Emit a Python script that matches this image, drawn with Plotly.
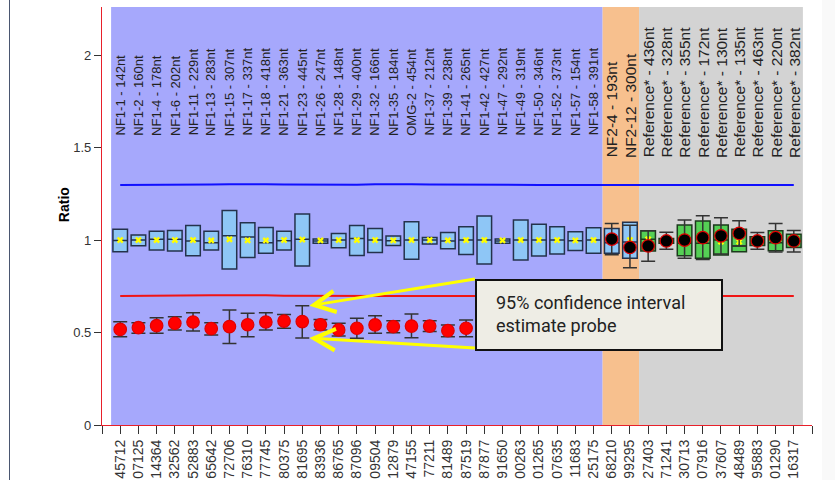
import plotly.graph_objects as go

# ---- probes (top labels) and their target ids (x tick labels) ----
probe_names = [
    "NF1-1 - 142nt", "NF1-2 - 160nt", "NF1-4 - 178nt", "NF1-6 - 202nt", "NF1-11 - 229nt",
    "NF1-13 - 283nt", "NF1-15 - 307nt", "NF1-17 - 337nt", "NF1-18 - 418nt", "NF1-21 - 363nt",
    "NF1-23 - 445nt", "NF1-26 - 247nt", "NF1-28 - 148nt", "NF1-29 - 400nt", "NF1-32 - 166nt",
    "NF1-35 - 184nt", "OMG-2 - 454nt", "NF1-37 - 212nt", "NF1-39 - 238nt", "NF1-41 - 265nt",
    "NF1-42 - 427nt", "NF1-47 - 292nt", "NF1-49 - 319nt", "NF1-50 - 346nt", "NF1-52 - 373nt",
    "NF1-57 - 154nt", "NF1-58 - 391nt",
    "NF2-4 - 193nt", "NF2-12 - 300nt",
    "Reference* - 436nt", "Reference* - 328nt", "Reference* - 355nt", "Reference* - 172nt",
    "Reference* - 130nt", "Reference* - 135nt", "Reference* - 463nt", "Reference* - 220nt",
    "Reference* - 382nt",
]
probe_group = ["NF1"] * 27 + ["NF2"] * 2 + ["Reference"] * 9
tick_ids = [
    "45712", "07125", "14364", "32562", "52883", "65642", "72706", "76310", "77745", "80375",
    "81695", "83936", "86765", "87096", "09504", "12879", "47155", "77211", "81489", "87519",
    "87877", "91650", "00263", "01265", "07635", "11683", "25175",
    "68210", "99295",
    "27403", "71241", "30713", "07916", "37607", "48489", "95883", "01290", "16317",
]

# ---- reference distribution per probe (box) ----
box_q1 = [0.937, 0.969, 0.946, 0.941, 0.915, 0.946, 0.843, 0.906, 0.928, 0.946,
          0.859, 0.982, 0.959, 0.917, 0.933, 0.971, 0.896, 0.978, 0.953, 0.922,
          0.870, 0.982, 0.892, 0.914, 0.924, 0.944, 0.928,
          0.928, 0.901,
          0.941, 0.982, 0.915, 0.901, 0.919, 0.937, 0.971, 0.942, 0.960]
box_median = [0.998, 1.000, 1.004, 1.004, 0.995, 0.986, 1.023, 1.016, 0.986, 0.996,
              1.004, 0.995, 1.000, 1.009, 1.000, 0.996, 1.000, 1.000, 0.995, 1.000,
              1.000, 0.995, 1.000, 1.000, 1.000, 0.996, 1.000,
              0.986, 0.990,
              1.004, 0.995, 0.982, 0.982, 1.000, 0.968, 0.995, 0.986, 0.995]
box_q3 = [1.058, 1.027, 1.047, 1.052, 1.079, 1.047, 1.160, 1.094, 1.068, 1.047,
          1.141, 1.005, 1.036, 1.079, 1.063, 1.022, 1.099, 1.014, 1.041, 1.072,
          1.130, 1.005, 1.108, 1.085, 1.072, 1.045, 1.067,
          1.063, 1.096,
          1.050, 1.009, 1.081, 1.103, 1.081, 1.058, 1.018, 1.050, 1.032]
box_mean = [1.000, 1.000, 1.000, 1.000, 1.000, 0.998, 1.004, 0.998, 0.998, 1.000,
            1.002, 0.998, 1.000, 1.000, 1.000, 0.998, 1.000, 1.000, 0.998, 1.000,
            1.000, 0.998, 1.000, 1.000, 1.000, 0.998, 1.000,
            1.000, 1.000,
            1.004, 1.000, 1.000, 1.000, 0.991, 0.991, 1.000, 1.000, 1.000]

# ---- sample ratio with 95% confidence interval ----
sample_ratio = [0.517, 0.526, 0.537, 0.550, 0.557, 0.521, 0.532, 0.542, 0.557, 0.562,
                0.559, 0.542, 0.514, 0.523, 0.541, 0.532, 0.535, 0.535, 0.510, 0.523,
                None, None, None, None, None, None, None,
                1.005, 0.960,
                0.968, 0.995, 1.000, 1.013, 1.023, 1.036, 0.995, 1.013, 0.995]
sample_ci_low = [0.477, 0.496, 0.496, 0.514, 0.508, 0.486, 0.440, 0.477, 0.514, 0.523,
                 0.470, 0.514, 0.481, 0.469, 0.496, 0.499, 0.472, 0.505, 0.477, 0.477,
                 None, None, None, None, None, None, None,
                 0.920, 0.850,
                 0.886, 0.950, 0.901, 0.895, 0.925, 0.968, 0.950, 0.936, 0.935]
sample_ci_high = [0.558, 0.553, 0.580, 0.585, 0.607, 0.553, 0.622, 0.604, 0.607, 0.598,
                  0.645, 0.571, 0.550, 0.577, 0.591, 0.564, 0.600, 0.564, 0.541, 0.568,
                  None, None, None, None, None, None, None,
                  1.090, 1.080,
                  1.050, 1.042, 1.108, 1.131, 1.121, 1.104, 1.041, 1.090, 1.052]

# ---- arbitrary thresholds ----
upper_threshold = [1.297, 1.297, 1.298, 1.298, 1.299, 1.300, 1.302, 1.303, 1.302, 1.300,
                   1.299, 1.299, 1.298, 1.299, 1.301, 1.303, 1.302, 1.300, 1.299, 1.298,
                   1.298, 1.299, 1.299, 1.298, 1.298, 1.298, 1.298,
                   1.298, 1.298,
                   1.298, 1.298, 1.298, 1.298, 1.298, 1.298, 1.298, 1.297, 1.297]
lower_threshold = [0.697, 0.697, 0.697, 0.698, 0.699, 0.701, 0.702, 0.703, 0.701, 0.699,
                   0.698, 0.697, 0.697, 0.697, 0.697, 0.697, 0.697, 0.697, 0.697, 0.697,
                   0.697, 0.697, 0.697, 0.697, 0.697, 0.697, 0.697,
                   0.697, 0.697,
                   0.697, 0.697, 0.697, 0.697, 0.697, 0.697, 0.697, 0.697, 0.697]

group_colors = {"NF1": "#a6a8fc", "NF2": "#f7c08e", "Reference": "#d3d3d3"}
box_fill = {"NF1": "#8ec6f6", "NF2": "#8ec6f6", "Reference": "#55cf55"}
box_edge = {"NF1": "#24324c", "NF2": "#24324c", "Reference": "#1d3a1d"}

n = len(probe_names)
xs = list(range(n))

fig = go.Figure()

# group background bands
start = 0
for i in range(1, n + 1):
    if i == n or probe_group[i] != probe_group[start]:
        fig.add_shape(type="rect", layer="below", xref="x", yref="paper",
                      x0=start - 0.5, x1=i - 0.5, y0=0, y1=1,
                      fillcolor=group_colors[probe_group[start]], line_width=0)
        start = i

# threshold lines
fig.add_trace(go.Scatter(x=xs, y=upper_threshold, mode="lines",
                         line=dict(color="#1010ff", width=2), hoverinfo="skip"))
fig.add_trace(go.Scatter(x=xs, y=lower_threshold, mode="lines",
                         line=dict(color="#f01414", width=2), hoverinfo="skip"))

# boxes per group
for g in ["NF1", "NF2", "Reference"]:
    idx = [i for i in xs if probe_group[i] == g]
    fig.add_trace(go.Box(
        x=idx,
        q1=[box_q1[i] for i in idx],
        median=[box_median[i] for i in idx],
        q3=[box_q3[i] for i in idx],
        lowerfence=[box_q1[i] for i in idx],
        upperfence=[box_q3[i] for i in idx],
        width=0.8, whiskerwidth=0, boxpoints=False,
        fillcolor=box_fill[g], line=dict(color=box_edge[g], width=1.5),
        hoverinfo="skip",
    ))

# mean of the reference distribution
fig.add_trace(go.Scatter(x=xs, y=box_mean, mode="markers",
                         marker=dict(symbol="x", size=6, color="#ffff00", line_width=0),
                         hoverinfo="skip"))

# sample ratios with their 95% confidence interval
dot_colors = ["#ff0000" if (v is not None and v < lo) else "#000000"
              for v, lo in zip(sample_ratio, lower_threshold)]
err_plus = [None if v is None else hi - v for v, hi in zip(sample_ratio, sample_ci_high)]
err_minus = [None if v is None else v - lo for v, lo in zip(sample_ratio, sample_ci_low)]
fig.add_trace(go.Scatter(
    x=xs, y=sample_ratio, mode="markers",
    marker=dict(size=12.5, color=dot_colors, line=dict(color="#e00000", width=1.2)),
    error_y=dict(type="data", symmetric=False, array=err_plus, arrayminus=err_minus,
                 color="#333333", thickness=1.5, width=7),
    hoverinfo="skip",
))

# top probe labels
for i, name in enumerate(probe_names):
    nf1 = probe_group[i] == "NF1"
    fig.add_annotation(x=i, y=1.553 if nf1 else 1.435, xref="x", yref="y",
                       text=name, textangle=-90, showarrow=False,
                       xanchor="center", yanchor="bottom",
                       font=dict(size=13 if nf1 else 15.5, color="#222222"))

# y axis title
fig.add_annotation(xref="paper", yref="paper", x=(54 - 102) / 710, y=0.526, text="<b>Ratio</b>",
                   textangle=-90, showarrow=False, font=dict(size=14, color="#000000"))

# call-out box with arrows pointing at the confidence interval of one probe
fig.add_shape(type="rect", layer="above", xref="paper", yref="paper",
              x0=(476 - 102) / 710, x1=(722 - 102) / 710,
              y0=(425 - 350) / 418, y1=(425 - 280) / 418,
              fillcolor="#eeede5", line=dict(color="#111111", width=2))
fig.add_annotation(xref="paper", yref="paper", x=(494 - 102) / 710, y=(425 - 314) / 418,
                   xanchor="left", yanchor="middle", align="left", showarrow=False,
                   text="95% confidence interval<br>estimate probe",
                   font=dict(family="Roboto", size=18, color="#222222"))
k = probe_names.index("NF1-23 - 445nt")
for tip_y, ay in [(sample_ci_high[k], -27), (sample_ci_low[k], 10)]:
    fig.add_annotation(x=k + 0.39, y=tip_y, xref="x", yref="y", text="",
                       showarrow=True, ax=167, ay=ay, arrowhead=5, arrowsize=1.4,
                       arrowwidth=3, arrowcolor="#ffff00", standoff=0, startstandoff=0)

# outer frame line and right strip
fig.add_shape(type="line", xref="paper", yref="paper",
              x0=(9.5 - 102) / 710, x1=(9.5 - 102) / 710, y0=-55 / 418, y1=1 + 7 / 418,
              line=dict(color="#4a5670", width=1))
fig.add_shape(type="rect", xref="paper", yref="paper", layer="below",
              x0=(822 - 102) / 710, x1=1.05, y0=-55 / 418, y1=1 + 7 / 418,
              fillcolor="#f9f9f9", line_width=0)

fig.update_layout(
    width=835, height=480,
    margin=dict(l=102, r=23, t=7, b=55),
    paper_bgcolor="white", plot_bgcolor="white", showlegend=False,
    font=dict(family="Liberation Sans, Arial, sans-serif", color="#333333"),
    xaxis=dict(range=[-1, n], tickmode="array", tickvals=list(range(-1, n + 1)),
               ticktext=[""] + tick_ids + [""], tickangle=-90,
               ticks="outside", ticklen=8, tickcolor="#333333", tickwidth=1,
               showline=True, linecolor="#e8202a", linewidth=1.2,
               showgrid=False, zeroline=False, tickfont=dict(size=14),
               automargin=False),
    yaxis=dict(range=[0, 2.26], tickmode="array", tickvals=[0, 0.5, 1, 1.5, 2],
               ticktext=["0", "0.5", "1", "1.5", "2"],
               ticks="outside", ticklen=7, tickcolor="#333333", tickwidth=1,
               showline=True, linecolor="#e8202a", linewidth=1.2,
               showgrid=False, zeroline=False, tickfont=dict(size=13),
               automargin=False),
)

fig.write_html("out.html")
